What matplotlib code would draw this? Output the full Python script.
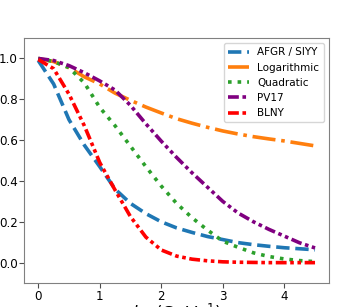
import matplotlib
matplotlib.use('Agg')
import matplotlib.pyplot as plt
import numpy as np

# b_T grid (GeV^-1) and curves
b = np.array([0, 0.25, 0.5, 0.75, 1.0, 1.25, 1.5, 1.75, 2.0, 2.25, 2.5,
              2.75, 3.0, 3.25, 3.5, 3.75, 4.0, 4.25, 4.5])

afgr = [0.99, 0.875, 0.70, 0.575, 0.47, 0.36, 0.29, 0.24, 0.20, 0.17, 0.148,
        0.128, 0.113, 0.098, 0.088, 0.080, 0.073, 0.068, 0.063]
logarithmic = [1.0, 0.985, 0.955, 0.91, 0.875, 0.83, 0.795, 0.762, 0.733, 0.705,
               0.683, 0.663, 0.645, 0.63, 0.617, 0.606, 0.596, 0.584, 0.572]
quadratic = [1.0, 0.985, 0.955, 0.88, 0.76, 0.67, 0.57, 0.47, 0.375, 0.29, 0.22,
             0.16, 0.105, 0.075, 0.048, 0.03, 0.018, 0.01, 0.005]
pv17 = [1.0, 0.99, 0.965, 0.93, 0.89, 0.845, 0.77, 0.68, 0.595, 0.515, 0.44,
        0.37, 0.30, 0.243, 0.20, 0.163, 0.13, 0.097, 0.072]
blny = [0.995, 0.95, 0.825, 0.67, 0.49, 0.355, 0.225, 0.125, 0.062, 0.032, 0.017,
        0.009, 0.004, 0.002, 0.001, 0.0, 0.0, 0.0, 0.0]

labels = ['AFGR / SIYY', 'Logarithmic', 'Quadratic', 'PV17', 'BLNY']

fig = plt.figure(figsize=(3.54, 3.07), dpi=100)
ax = fig.add_axes([0.069, 0.078, 0.86, 0.798])

lw = 2.6
ax.plot(b, afgr, color='#1f77b4', ls='--', lw=lw, label=labels[0])
ax.plot(b, logarithmic, color='#ff7f0e', ls='-.', lw=lw, label=labels[1])
ax.plot(b, quadratic, color='#2ca02c', ls=':', lw=lw, label=labels[2])
ax.plot(b, pv17, color='purple', ls=(0, (3, 1, 1, 1, 1, 1)), lw=lw, label=labels[3])
ax.plot(b, blny, color='red', ls=(0, (3, 1, 1, 1, 1, 1)), lw=lw, label=labels[4])

ax.set_ylim(-0.1, 1.1)
ax.set_xticks([0, 1, 2, 3, 4])
ax.set_yticks([0.0, 0.2, 0.4, 0.6, 0.8, 1.0])
ax.tick_params(labelsize=8.6, color='0.3', pad=1.2)
for s in ax.spines.values():
    s.set_color('0.5')
ax.set_xlabel('$b_T$ (GeV$^{-1}$)', fontsize=12, labelpad=-0.5)

ax.legend(loc='upper right', fontsize=7.5, handlelength=2.0)

fig.savefig('out.png', dpi=100)
